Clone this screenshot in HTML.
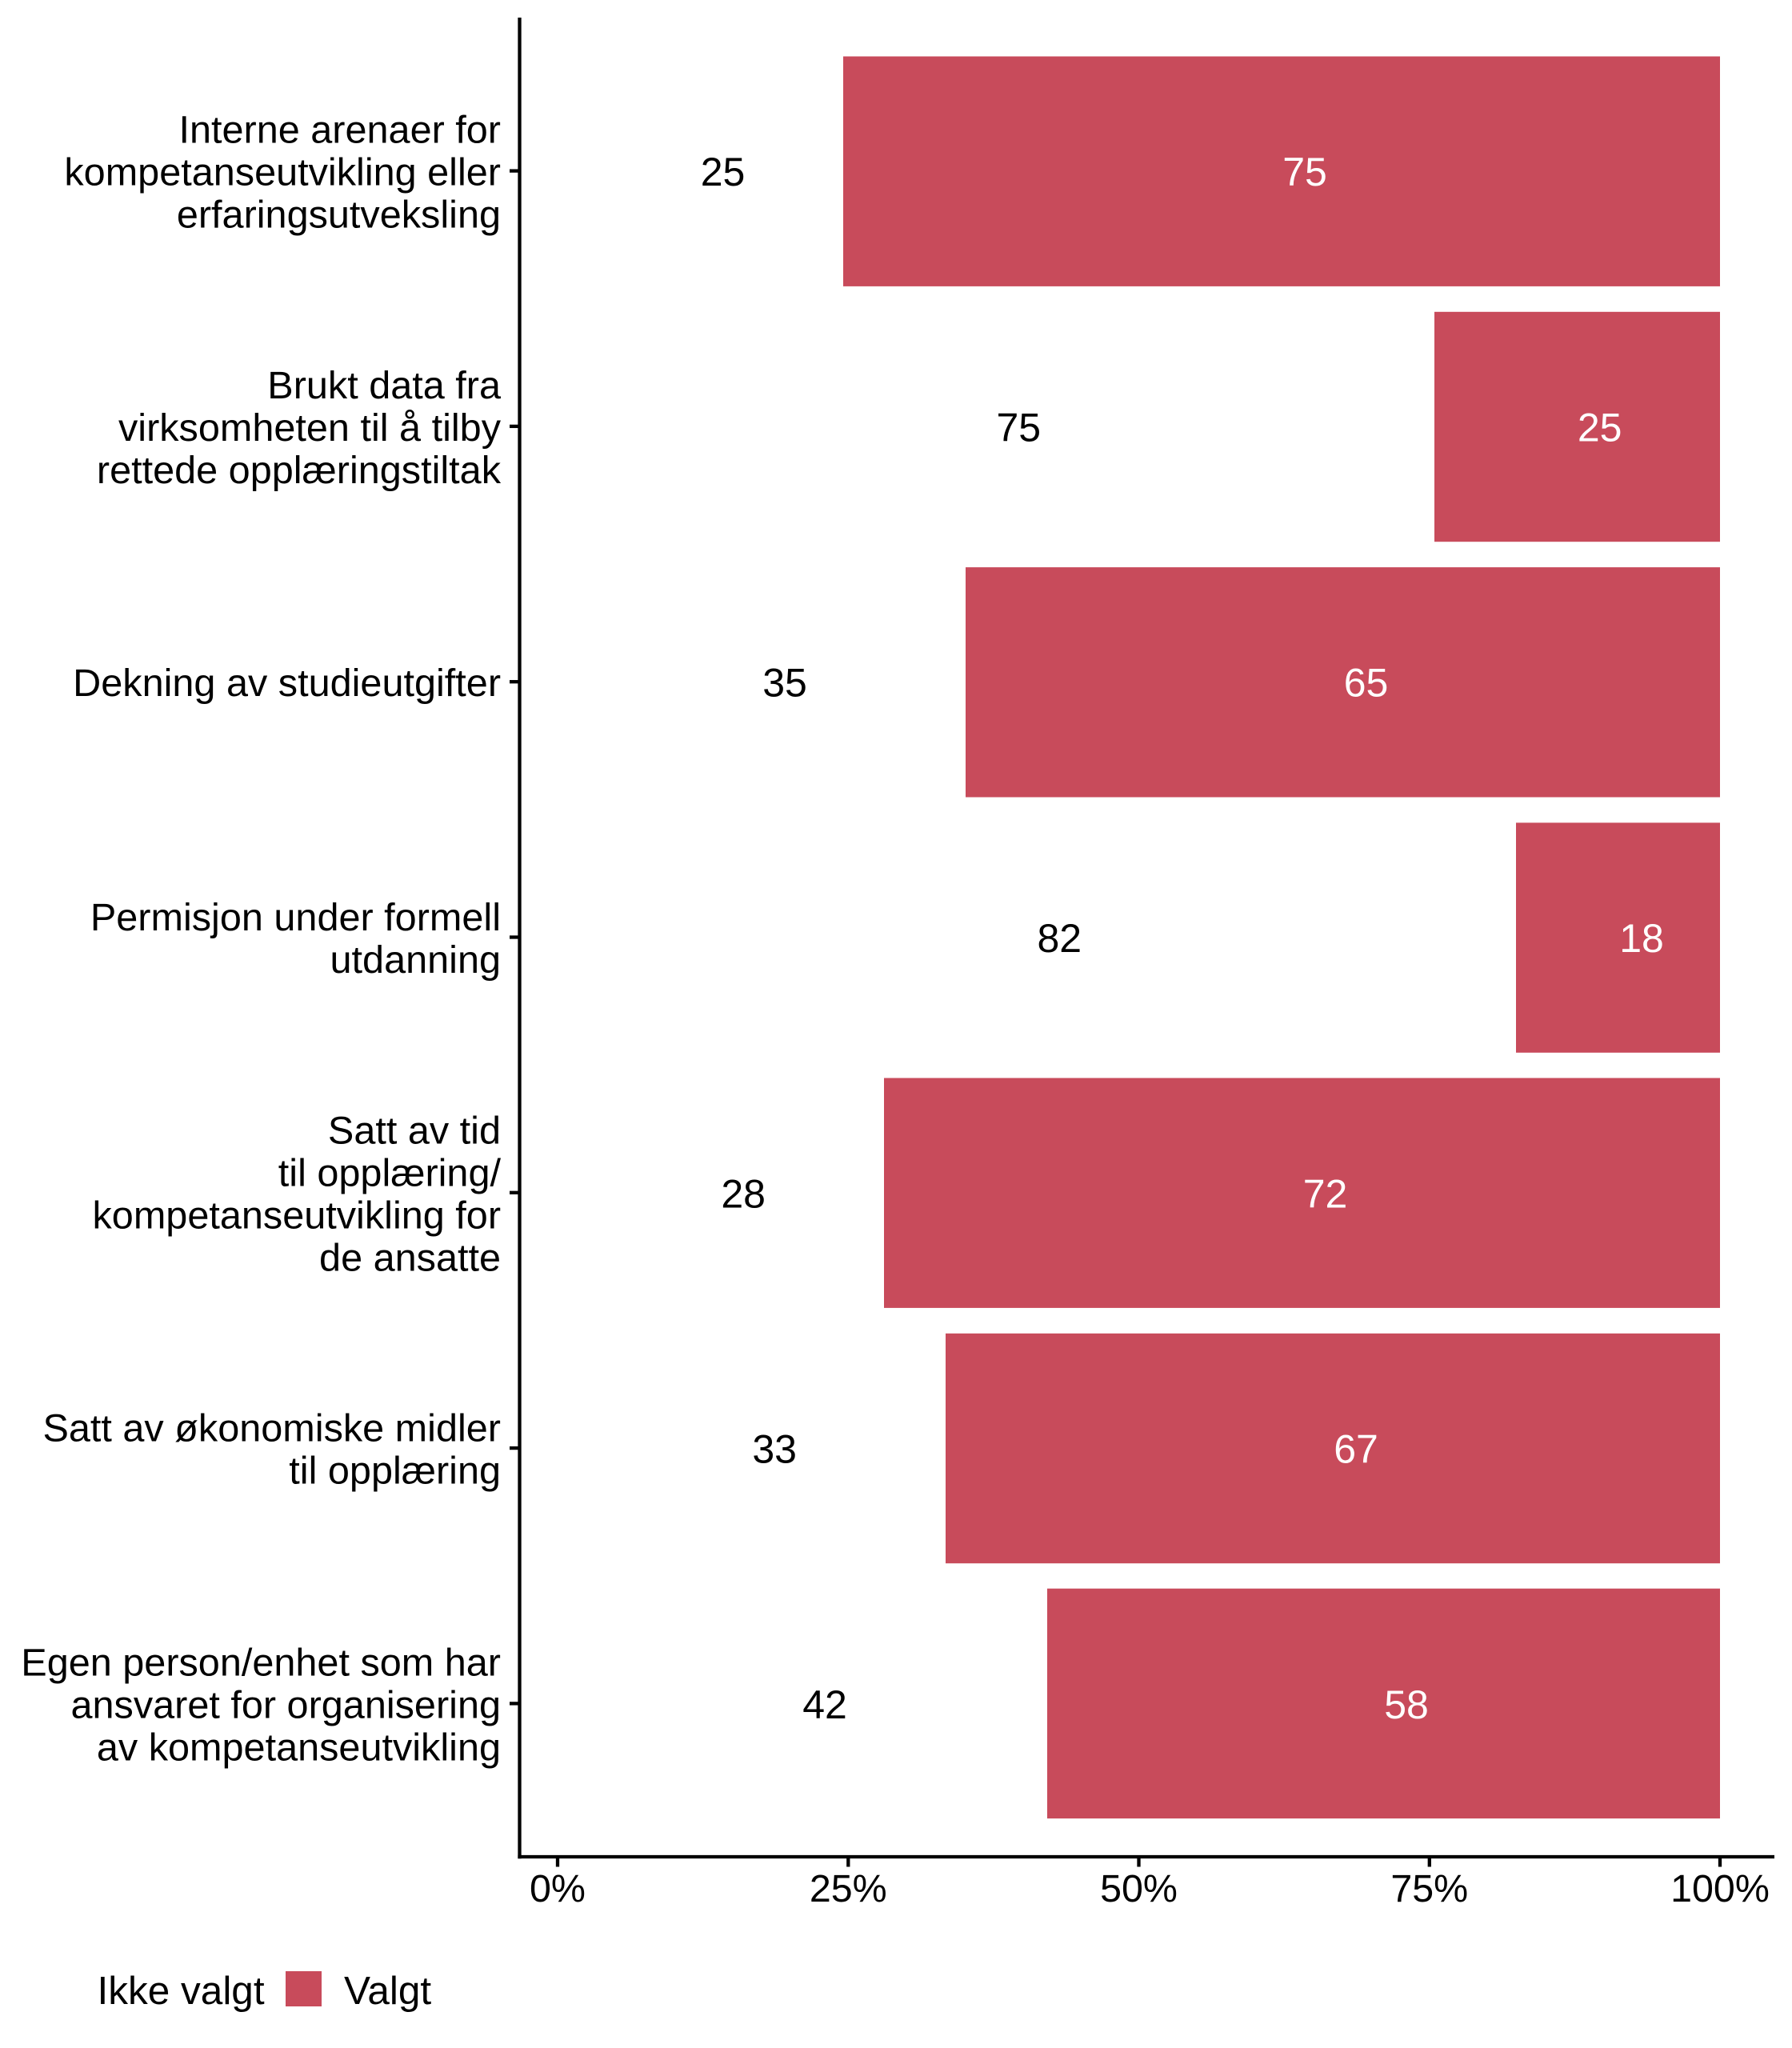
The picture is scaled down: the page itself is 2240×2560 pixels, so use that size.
<!DOCTYPE html>
<html>
<head>
<meta charset="utf-8">
<style>
  html, body { margin: 0; padding: 0; background: #ffffff; }
  svg { display: block; }
  text { font-family: "Liberation Sans", Arial, sans-serif; }
</style>
</head>
<body>
<svg width="2240" height="2560" viewBox="0 0 2240 2560" xmlns="http://www.w3.org/2000/svg">
  <rect x="0" y="0" width="2240" height="2560" fill="#ffffff"/>

  <!-- Bars -->
  <g fill="#C84B5B">
    <rect x="1054" y="70.5" width="1096" height="287.4"/>
    <rect x="1793" y="389.8" width="357" height="287.4"/>
    <rect x="1207" y="709.1" width="943" height="287.4"/>
    <rect x="1895" y="1028.4" width="255" height="287.4"/>
    <rect x="1105" y="1347.5" width="1045" height="287.4"/>
    <rect x="1182" y="1666.8" width="968" height="287.4"/>
    <rect x="1309" y="1985.7" width="841" height="287.4"/>
  </g>

  <!-- Data labels -->
  <g font-size="50" text-anchor="middle">
    <text x="903.5" y="232" fill="#000">25</text>
    <text x="1631" y="232" fill="#fff">75</text>
    <text x="1273.3" y="551.4" fill="#000">75</text>
    <text x="1999.7" y="551.4" fill="#fff">25</text>
    <text x="981" y="870.7" fill="#000">35</text>
    <text x="1707.5" y="870.7" fill="#fff">65</text>
    <text x="1324.3" y="1190" fill="#000">82</text>
    <text x="2052" y="1190" fill="#fff">18</text>
    <text x="929.2" y="1509.3" fill="#000">28</text>
    <text x="1656.5" y="1509.3" fill="#fff">72</text>
    <text x="968.2" y="1828.6" fill="#000">33</text>
    <text x="1695" y="1828.6" fill="#fff">67</text>
    <text x="1031" y="2147.9" fill="#000">42</text>
    <text x="1758" y="2147.9" fill="#fff">58</text>
  </g>

  <!-- Axes -->
  <line x1="649.5" y1="22" x2="649.5" y2="2323.2" stroke="#000" stroke-width="4.3"/>
  <line x1="647.4" y1="2321" x2="2218" y2="2321" stroke="#000" stroke-width="4.3"/>

  <!-- Y ticks -->
  <g stroke="#000" stroke-width="4.3">
    <line x1="637" y1="213.6" x2="649.5" y2="213.6"/>
    <line x1="637" y1="532.9" x2="649.5" y2="532.9"/>
    <line x1="637" y1="852.2" x2="649.5" y2="852.2"/>
    <line x1="637" y1="1171.5" x2="649.5" y2="1171.5"/>
    <line x1="637" y1="1490.8" x2="649.5" y2="1490.8"/>
    <line x1="637" y1="1810.1" x2="649.5" y2="1810.1"/>
    <line x1="637" y1="2129.4" x2="649.5" y2="2129.4"/>
  </g>

  <!-- X ticks -->
  <g stroke="#000" stroke-width="4.3">
    <line x1="697" y1="2321" x2="697" y2="2333.5"/>
    <line x1="1060.3" y1="2321" x2="1060.3" y2="2333.5"/>
    <line x1="1423.5" y1="2321" x2="1423.5" y2="2333.5"/>
    <line x1="1786.8" y1="2321" x2="1786.8" y2="2333.5"/>
    <line x1="2150" y1="2321" x2="2150" y2="2333.5"/>
  </g>

  <!-- X tick labels -->
  <g font-size="48.4" text-anchor="middle" fill="#000">
    <text x="697" y="2377">0%</text>
    <text x="1060.3" y="2377">25%</text>
    <text x="1423.5" y="2377">50%</text>
    <text x="1786.8" y="2377">75%</text>
    <text x="2150" y="2377">100%</text>
  </g>

  <!-- Y axis labels -->
  <g font-size="48.6" text-anchor="end" fill="#000">
    <text x="626" y="178.6">Interne arenaer for</text>
    <text x="626" y="231.6">kompetanseutvikling eller</text>
    <text x="626" y="284.6">erfaringsutveksling</text>

    <text x="626" y="497.9">Brukt data fra</text>
    <text x="626" y="550.9">virksomheten til å tilby</text>
    <text x="626" y="603.9">rettede opplæringstiltak</text>

    <text x="626" y="870.2">Dekning av studieutgifter</text>

    <text x="626" y="1163">Permisjon under formell</text>
    <text x="626" y="1216">utdanning</text>

    <text x="626" y="1429.3">Satt av tid</text>
    <text x="626" y="1482.3">til opplæring/</text>
    <text x="626" y="1535.3">kompetanseutvikling for</text>
    <text x="626" y="1588.3">de ansatte</text>

    <text x="626" y="1801.6">Satt av økonomiske midler</text>
    <text x="626" y="1854.6">til opplæring</text>

    <text x="626" y="2094.4">Egen person/enhet som har</text>
    <text x="626" y="2147.4">ansvaret for organisering</text>
    <text x="626" y="2200.4">av kompetanseutvikling</text>
  </g>

  <!-- Legend -->
  <text x="121.5" y="2505" font-size="49.5" fill="#000">Ikke valgt</text>
  <rect x="357" y="2464" width="45" height="44" fill="#C84B5B"/>
  <text x="430" y="2505" font-size="49.5" fill="#000">Valgt</text>
</svg>
</body>
</html>
